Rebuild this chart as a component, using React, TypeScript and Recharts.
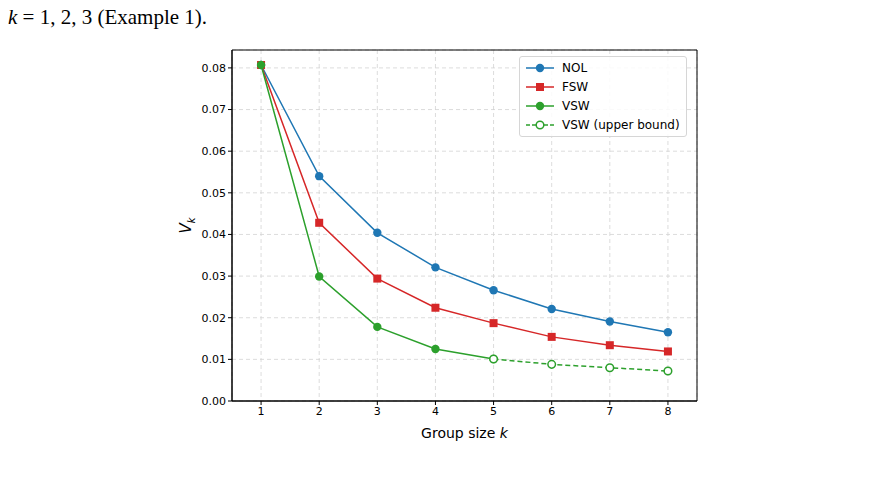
import React from 'react';
import { LineChart, Line, XAxis, YAxis, CartesianGrid, ReferenceArea } from 'recharts';

const groupSizes = [1, 2, 3, 4, 5, 6, 7, 8];
const nolValues = [0.0807, 0.054, 0.0404, 0.0321, 0.0266, 0.0221, 0.0191, 0.0165];
const fswValues = [0.0807, 0.0428, 0.0294, 0.0224, 0.0187, 0.0154, 0.0134, 0.0119];
const vswValues = [0.0807, 0.0299, 0.0178, 0.0125, 0.0101, null, null, null];
const vswUpperValues = [null, null, null, null, 0.0101, 0.0088, 0.008, 0.0072];
const yTicks = [0, 0.01, 0.02, 0.03, 0.04, 0.05, 0.06, 0.07, 0.08];

const BLUE = '#1f77b4';
const RED = '#d62728';
const GREEN = '#2ca02c';
const FONT = '"DejaVu Sans", sans-serif';

const data = groupSizes.map((k, i) => ({
  k,
  nol: nolValues[i],
  fsw: fswValues[i],
  vsw: vswValues[i],
  upper: vswUpperValues[i],
}));

const circleDot = (color: string, open = false) => (props: any) => {
  const { cx, cy, index } = props;
  if (cx == null || cy == null || props.value == null) return <g key={`d${index}`} />;
  return (
    <circle key={`d${index}`} cx={cx} cy={cy} r={open ? 3.8 : 4.2}
      fill={open ? '#fff' : color} stroke={color} strokeWidth={open ? 1.5 : 0} />
  );
};

const squareDot = (props: any) => {
  const { cx, cy, index } = props;
  if (cx == null || cy == null) return <g key={`s${index}`} />;
  return <rect key={`s${index}`} x={cx - 4} y={cy - 4} width={8} height={8} fill={RED} />;
};

const legendItems = [
  { name: 'NOL', color: BLUE, shape: 'circle', dash: undefined },
  { name: 'FSW', color: RED, shape: 'square', dash: undefined },
  { name: 'VSW', color: GREEN, shape: 'circle', dash: undefined },
  { name: 'VSW (upper bound)', color: GREEN, shape: 'open', dash: '4 2' },
];

const ChartLegend = () => (
  <div style={{
    position: 'absolute', left: 519, top: 56,
    background: 'rgba(255,255,255,0.85)', border: '1px solid #d6d6d6', borderRadius: 3,
    padding: '1px 6px 2px 6px', fontFamily: FONT, fontSize: 12, color: '#000',
  }}>
    {legendItems.map((it) => (
      <div key={it.name} style={{ display: 'flex', alignItems: 'center', height: 19 }}>
        <svg width={28} height={12} style={{ marginRight: 8 }}>
          <line x1={0} y1={6} x2={28} y2={6} stroke={it.color} strokeWidth={1.5} strokeDasharray={it.dash} />
          {it.shape === 'square' && <rect x={10} y={2} width={8} height={8} fill={it.color} />}
          {it.shape === 'circle' && <circle cx={14} cy={6} r={4.2} fill={it.color} />}
          {it.shape === 'open' && <circle cx={14} cy={6} r={3.8} fill="white" stroke={it.color} strokeWidth={1.5} />}
        </svg>
        <span>{it.name}</span>
      </div>
    ))}
  </div>
);

const YLabel = (props: any) => {
  const { viewBox } = props;
  const x = viewBox.x + 19;
  const y = viewBox.y + viewBox.height / 2;
  return (
    <text transform={`translate(${x},${y}) rotate(-90)`} textAnchor="middle" fontFamily={FONT} fontSize={15} fill="#000">
      <tspan fontStyle="italic">V</tspan>
      <tspan fontStyle="italic" fontSize={10} dy={4}>k</tspan>
    </text>
  );
};

const XLabel = (props: any) => {
  const { viewBox } = props;
  const x = viewBox.x + viewBox.width / 2;
  return (
    <text x={x} y={viewBox.y + 37} textAnchor="middle" fontFamily={FONT} fontSize={14} fill="#000">
      Group size <tspan fontStyle="italic">k</tspan>
    </text>
  );
};

export default function App() {
  return (
    <div style={{ position: 'absolute', left: 0, top: 0, width: 876, height: 481, background: '#fff' }}>
      <div style={{
        position: 'absolute', left: 8, top: 3, fontFamily: '"Liberation Serif", serif',
        fontSize: 21, lineHeight: '28px', color: '#000', whiteSpace: 'nowrap',
      }}>
        <i>k</i> = 1, 2, 3 (Example 1).
      </div>
      <div style={{ position: 'absolute', left: 0, top: 0 }}>
        <LineChart width={876} height={481} data={data}
          margin={{ top: 50, right: 179, bottom: 40, left: 172 }}>
          <CartesianGrid stroke="#d3d3d3" strokeDasharray="4 3" strokeWidth={0.8} />
          <XAxis dataKey="k" type="number" domain={[0.5, 8.5]} ticks={groupSizes}
            tick={{ fontFamily: FONT, fontSize: 11, fill: '#000' }} tickSize={4}
            axisLine={{ stroke: '#000' }} tickLine={{ stroke: '#000' }} height={40}
            label={<XLabel />} />
          <YAxis type="number" domain={[0, 0.0843]} ticks={yTicks} allowDataOverflow
            tickFormatter={(v: number) => v.toFixed(2)} width={60}
            tick={{ fontFamily: FONT, fontSize: 11, fill: '#000' }} tickSize={4}
            axisLine={{ stroke: '#000' }} tickLine={{ stroke: '#000' }}
            label={<YLabel />} />
          <ReferenceArea x1={0.5} x2={8.5} y1={0} y2={0.0843} fill="none" stroke="#000" strokeWidth={1} ifOverflow="visible" />
          <Line dataKey="nol" stroke={BLUE} strokeWidth={1.5} dot={circleDot(BLUE)} isAnimationActive={false} />
          <Line dataKey="fsw" stroke={RED} strokeWidth={1.5} dot={squareDot} isAnimationActive={false} />
          <Line dataKey="vsw" stroke={GREEN} strokeWidth={1.5} dot={circleDot(GREEN)} isAnimationActive={false} />
          <Line dataKey="upper" stroke={GREEN} strokeWidth={1.5} strokeDasharray="5 3" dot={circleDot(GREEN, true)} isAnimationActive={false} />
        </LineChart>
      </div>
      <ChartLegend />
    </div>
  );
}
